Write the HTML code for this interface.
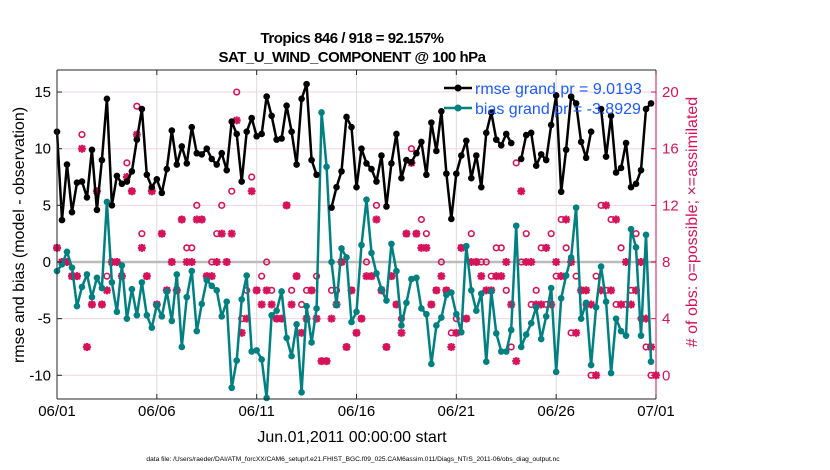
<!DOCTYPE html>
<html><head><meta charset="utf-8"><style>
html,body{margin:0;padding:0;background:#fff;}
svg{display:block;font-family:"Liberation Sans",Arial,sans-serif;}
</style></head><body>
<svg id="chart" width="830" height="470" viewBox="0 0 830 470" xmlns="http://www.w3.org/2000/svg">
<g id="grid"></g>
<g id="obs"></g>
<g id="lines"></g>
<g id="axes"></g>
<text x="352" y="43" text-anchor="middle" font-size="15" font-weight="bold" letter-spacing="-0.5">Tropics 846 / 918 = 92.157%</text>
<text x="352" y="62" text-anchor="middle" font-size="15" font-weight="bold" letter-spacing="-0.5">SAT_U_WIND_COMPONENT @ 100 hPa</text>
<text transform="translate(24,235) rotate(-90)" text-anchor="middle" font-size="16">rmse and bias (model - observation)</text>
<text transform="translate(697,222) rotate(-90)" text-anchor="middle" font-size="16" fill="#d6135a"># of obs: o=possible; ×=assimilated</text>
<text x="352" y="442" text-anchor="middle" font-size="16">Jun.01,2011 00:00:00 start</text>
<text x="353" y="461" text-anchor="middle" font-size="6.6">data file: /Users/raeder/DAI/ATM_forcXX/CAM6_setup/f.e21.FHIST_BGC.f09_025.CAM6assim.011/Diags_NTrS_2011-06/obs_diag_output.nc</text>
<g>
  <line x1="444" y1="88" x2="472" y2="88" stroke="#000" stroke-width="2.5"/>
  <circle cx="458" cy="88" r="3.5" fill="#000"/>
  <text x="475" y="94" font-size="16" fill="#1a5cff">rmse grand pr = 9.0193</text>
  <line x1="444" y1="108" x2="472" y2="108" stroke="#008080" stroke-width="2.5"/>
  <circle cx="458" cy="108" r="3.5" fill="#008080"/>
  <text x="475" y="114" font-size="16" fill="#1a5cff">bias grand pr = -3.8929</text>
</g>
</svg>
<script>
const rmse=[11.5,3.7,8.6,4.4,7.0,7.1,5.7,9.9,4.6,9.0,14.4,5.0,7.6,6.9,7.1,8.0,10.8,13.5,7.7,6.6,7.3,6.1,8.2,11.6,8.6,10.2,8.7,11.9,9.6,
9.5,10.0,9.1,8.6,9.6,8.1,12.4,11.3,7.1,11.5,12.7,11.1,11.3,14.6,12.9,10.8,10.9,13.8,11.5,8.6,14.4,15.7,9.0,7.7,null,null,4.8,6.6,8.0,12.8,
11.9,6.6,10.0,8.7,8.2,7.1,9.4,4.9,8.7,11.3,7.4,9.0,8.8,9.6,10.6,7.7,12.3,9.8,13.3,7.8,3.8,7.8,9.4,10.7,7.4,9.4,6.6,11.4,13.2,10.8,
10.3,11.3,10.5,null,9.1,11.2,11.4,8.5,9.5,9.0,12.1,14.7,6.2,9.9,14.6,14.0,10.6,9.2,11.5,null,13.5,9.3,12.9,7.9,8.3,10.5,6.6,6.9,8.1,13.5,14.0,null];
const bias=[-0.8,-0.2,0.9,-0.5,-3.9,-2.2,-1.1,-3.1,-1.4,-2.3,5.3,-1.8,-4.4,-0.3,-5.0,-2.4,-4.7,-1.8,-4.7,-5.8,-3.8,-4.8,-2.6,-5.2,-1.1,-7.5,-3.1,-0.8,-6.1,
-3.7,-1.6,-2.1,-2.5,-4.8,-3.5,-11.1,-8.7,-3.3,-1.2,-7.9,-7.8,-8.6,-12.0,-4.7,-4.3,-2.6,-6.7,-8.3,-5.5,-11.5,-3.9,-7.1,-4.1,13.2,8.4,0.0,-3.8,1.2,0.4,
-5.3,-4.4,1.5,5.5,0.8,-1.0,-2.4,-3.4,1.6,-0.8,-5.6,-3.6,-1.5,-1.4,-4.1,-4.6,-9.0,-5.6,-4.9,-2.9,-2.7,-4.6,-6.2,1.4,-2.5,-4.3,-2.8,-8.8,-2.6,-6.3,
-7.9,-7.9,-6.0,3.2,-7.5,-6.4,-5.4,-4.0,-6.8,-4.8,-2.3,-9.7,-3.2,-1.2,0.4,4.8,-5.0,-3.6,-9.1,-4.0,-0.4,-3.5,-9.8,-5.0,-6.1,-6.5,2.9,1.3,-6.5,2.4,-8.8,null];
const nAssim=[9,8,8,7,7,16,2,5,13,5,6,8,8,7,14,13,17,9,7,13,5,10,6,8,6,11,8,8,11,
11,7,7,8,10,8,10,18,3,4,13,6,5,6,5,4,4,12,5,7,3,4,6,4,1,1,4,5,8,2,
6,3,4,7,7,11,6,2,7,5,3,10,15,10,9,9,5,6,7,6,2,3,9,4,8,8,7,6,6,7,
7,8,5,1,13,8,8,5,5,9,5,8,7,11,8,3,6,6,5,0,6,12,6,11,5,8,5,6,8,4,2,0];
const nPoss=[9,8,8,7,7,17,2,5,13,5,7,8,8,7,15,13,19,10,7,13,5,10,6,8,6,11,9,9,12,
11,7,8,10,12,8,13,20,4,6,14,6,7,8,6,4,4,12,6,7,5,6,6,7,1,1,6,6,8,2,
6,3,4,8,7,12,6,2,7,5,4,10,16,10,11,10,5,6,8,6,3,4,9,4,10,8,8,8,7,
9,9,6,2,15,8,10,5,6,9,5,10,7,11,9,3,7,6,5,0,7,12,6,11,5,9,5,6,10,4,2,0];
const leftTicks=[-10,-5,0,5,10,15];
const rightTicks=[0,4,8,12,16,20];
const xTickDays=[0,5,10,15,20,25,30];
const xTickLabels=["06/01","06/06","06/11","06/16","06/21","06/26","07/01"];
const stepsPerDay=4;

const NS="http://www.w3.org/2000/svg";
const L=57,R=656,T=70,B=399;
const xS=d=>L+(R-L)*d/30;
const yL=v=>262-11.33*v;
const yR=r=>yL((r-8)/0.8);
function mk(tag,attrs,parent){const e=document.createElementNS(NS,tag);for(const k in attrs)e.setAttribute(k,attrs[k]);parent.appendChild(e);return e;}
const grid=document.getElementById('grid'),axes=document.getElementById('axes'),obs=document.getElementById('obs'),lines=document.getElementById('lines');
mk('rect',{x:L,y:T,width:R-L,height:B-T,fill:'#fff'},grid);
xTickDays.forEach(d=>{const g=mk('line',{x1:xS(d),x2:xS(d),y1:T,y2:B,stroke:'#dcdcdc','stroke-width':1},grid);

});
leftTicks.forEach(v=>{const g=mk('line',{x1:L,x2:R,y1:yL(v),y2:yL(v),stroke:v===0?'#bbbbbb':'#f6d3e0','stroke-width':v===0?2.5:1},grid);

});
const red='#d6135a';
nPoss.forEach((r,i)=>{const x=xS(i/stepsPerDay);const c=mk('circle',{cx:x,cy:yR(r),r:2.8,fill:'none',stroke:red,'stroke-width':1.6},obs);

});
nAssim.forEach((r,i)=>{const x=xS(i/stepsPerDay),y=yR(r),s=4;
const g=mk('path',{d:`M${x-s},${y}H${x+s}M${x},${y-s}V${y+s}M${x-3},${y-3}L${x+3},${y+3}M${x-3},${y+3}L${x+3},${y-3}`,stroke:red,'stroke-width':2.2,fill:'none'},obs);

});
function series(arr,color,name){let d='',pen=false;
arr.forEach((v,i)=>{if(v===null){pen=false;return;}d+=(pen?'L':'M')+xS(i/stepsPerDay).toFixed(1)+','+yL(v).toFixed(1);pen=true;});
const p=mk('path',{d:d,fill:'none',stroke:color,'stroke-width':2.5,'stroke-linejoin':'round'},lines);


arr.forEach((v,i)=>{if(v===null)return;const c=mk('circle',{cx:xS(i/stepsPerDay),cy:yL(v),r:3.3,fill:color},lines);

});}
series(bias,'#008080','bias');
series(rmse,'#000000','rmse');
mk('line',{x1:L,x2:R,y1:T,y2:T,stroke:'#262626','stroke-width':1},axes);
mk('line',{x1:L,x2:R,y1:B,y2:B,stroke:'#262626','stroke-width':1},axes);
mk('line',{x1:L,x2:L,y1:T,y2:B,stroke:'#262626','stroke-width':1},axes);
mk('line',{x1:R,x2:R,y1:T,y2:B,stroke:red,'stroke-width':1},axes);
leftTicks.forEach(v=>{mk('line',{x1:L,x2:L+5,y1:yL(v),y2:yL(v),stroke:'#262626'},axes);
const t=mk('text',{x:L-6,y:yL(v)+5,'text-anchor':'end','font-size':15},axes);t.textContent=v;

});
rightTicks.forEach(r=>{mk('line',{x1:R-5,x2:R,y1:yR(r),y2:yR(r),stroke:red},axes);
const t=mk('text',{x:R+6,y:yR(r)+5,'font-size':15,fill:red},axes);t.textContent=r;

});
xTickDays.forEach((d,k)=>{mk('line',{x1:xS(d),x2:xS(d),y1:B,y2:B-5,stroke:'#262626'},axes);
mk('line',{x1:xS(d),x2:xS(d),y1:T,y2:T+5,stroke:'#262626'},axes);
const t=mk('text',{x:xS(d),y:B+17,'text-anchor':'middle','font-size':15},axes);t.textContent=xTickLabels[k];

});
</script>
</body></html>
